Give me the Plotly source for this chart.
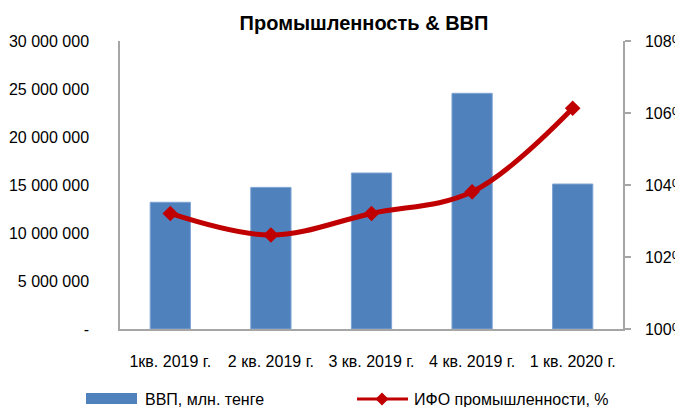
import plotly.graph_objects as go

# ---- data ----
categories = ["1кв. 2019 г.", "2 кв. 2019 г.", "3 кв. 2019 г.", "4 кв. 2019 г.", "1 кв. 2020 г."]
gdp_values = [13200000, 14750000, 16250000, 24550000, 15100000]
ifo_values = [103.21, 102.61, 103.21, 103.81, 106.13]
left_tickvals = [0, 5000000, 10000000, 15000000, 20000000, 25000000, 30000000]
left_ticktext = ["-", "5 000 000", "10 000 000", "15 000 000", "20 000 000", "25 000 000", "30 000 000"]
right_tickvals = [100, 102, 104, 106, 108]
right_ticktext = ["100%", "102%", "104%", "106%", "108%"]
title_text = "Промышленность & ВВП"
legend_bar_name = "ВВП, млн. тенге"
legend_line_name = "ИФО промышленности, %"

# ---- layout geometry (pixels) ----
W, H = 675, 407
L, R, T, B = 120, 623, 41, 329
FONT = "Liberation Sans, Arial, sans-serif"
BAR_COLOR = "#4F81BD"
LINE_COLOR = "#C00000"
AXIS_COLOR = "#A6A6A6"


def px(x):
    return (x - L) / (R - L)


def py(y):
    return (B - y) / (B - T)


fig = go.Figure()
fig.add_trace(go.Bar(
    x=categories, y=gdp_values, name=legend_bar_name,
    marker=dict(color=BAR_COLOR, line=dict(color="#7EA3D3", width=1)),
    width=0.4, yaxis="y", showlegend=False,
))
fig.add_trace(go.Scatter(
    x=categories, y=ifo_values, name=legend_line_name, yaxis="y2",
    mode="lines+markers",
    line=dict(color=LINE_COLOR, width=5, shape="spline", smoothing=1.0),
    marker=dict(symbol="diamond", size=12, color=LINE_COLOR),
    showlegend=False,
))

shapes = [
    # legend: bar swatch
    dict(type="rect", xref="paper", yref="paper",
         x0=px(86), x1=px(137), y0=py(404), y1=py(393),
         fillcolor=BAR_COLOR, line=dict(width=0)),
    # legend: line swatch
    dict(type="line", xref="paper", yref="paper",
         x0=px(357), x1=px(408), y0=py(399), y1=py(399),
         line=dict(color=LINE_COLOR, width=3)),
    dict(type="path", xref="paper", yref="paper",
         path="M {a},{b} L {c},{d} L {e},{f} L {g},{h} Z".format(
             a=px(382 - 6.5), b=py(399), c=px(382), d=py(399 - 6.5),
             e=px(382 + 6.5), f=py(399), g=px(382), h=py(399 + 6.5)),
         fillcolor=LINE_COLOR, line=dict(width=0)),
]

annotations = [
    dict(text=legend_bar_name, xref="paper", yref="paper", x=px(143), y=py(399.5),
         xanchor="left", yanchor="middle", showarrow=False,
         font=dict(family=FONT, size=16, color="#000000")),
    dict(text=legend_line_name, xref="paper", yref="paper", x=px(412), y=py(399.5),
         xanchor="left", yanchor="middle", showarrow=False,
         font=dict(family=FONT, size=16, color="#000000")),
]

fig.update_layout(
    width=W, height=H,
    margin=dict(l=L, r=W - R, t=T, b=H - B, pad=0, autoexpand=False),
    paper_bgcolor="white", plot_bgcolor="white",
    font=dict(family=FONT, size=16, color="#000000"),
    title=dict(text="<b>" + title_text + "</b>", x=364 / W, xanchor="center",
               y=1 - 23 / H, yanchor="middle", automargin=False,
               font=dict(family=FONT, size=20, color="#000000")),
    showlegend=False,
    xaxis=dict(
        type="category", showgrid=False, zeroline=False, automargin=False,
        showline=True, linecolor=AXIS_COLOR, linewidth=1.5,
        ticks="", tickfont=dict(family=FONT, size=16),
        ticklabelstandoff=17,
    ),
    yaxis=dict(
        range=[0, 30000000], tickvals=left_tickvals, ticktext=left_ticktext,
        showgrid=False, zeroline=False, showline=True, automargin=False,
        linecolor=AXIS_COLOR, linewidth=1.5, ticks="",
        tickfont=dict(family=FONT, size=16), ticklabelstandoff=26,
    ),
    yaxis2=dict(
        range=[100, 108], tickvals=right_tickvals, ticktext=right_ticktext,
        overlaying="y", side="right", showgrid=False, zeroline=False,
        showline=True, linecolor=AXIS_COLOR, linewidth=1.5, automargin=False,
        ticks="outside", ticklen=6, tickcolor=AXIS_COLOR, tickwidth=1.5,
        tickfont=dict(family=FONT, size=16), ticklabelstandoff=11,
    ),
    shapes=shapes,
    annotations=annotations,
)

fig.write_html(
    "out.html",
    config={"displayModeBar": False},
    post_script="document.body.style.margin='0';document.body.style.overflow='hidden';",
)
